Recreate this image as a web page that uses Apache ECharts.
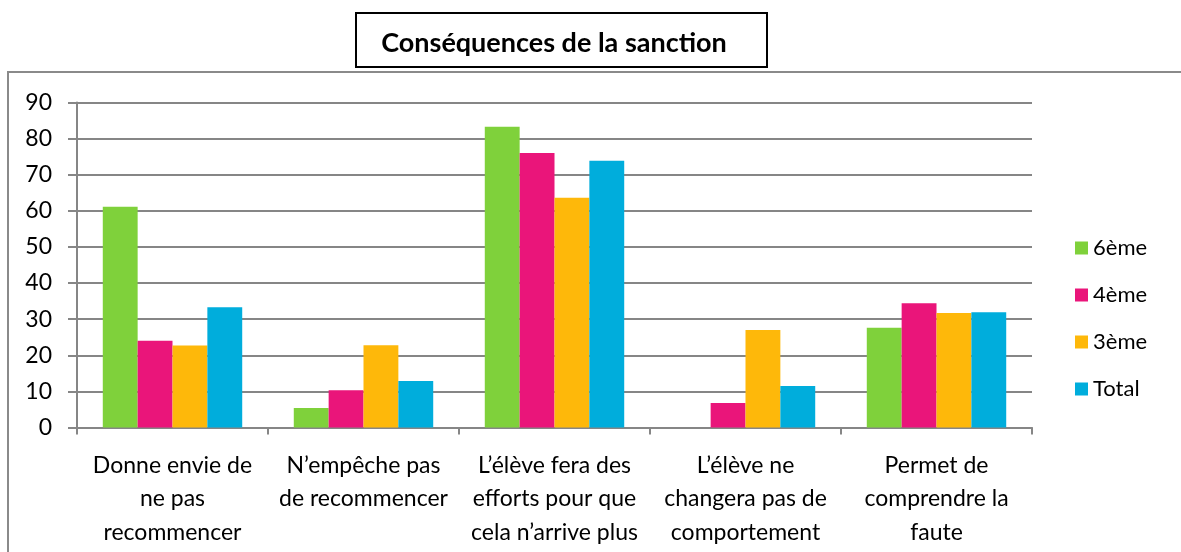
<!DOCTYPE html>
<html>
<head>
<meta charset="utf-8">
<script src="https://cdn.jsdelivr.net/npm/echarts@6/dist/echarts.min.js"></script>
<style>
html,body{margin:0;padding:0;background:#fff;}
#chart{width:1181px;height:552px;}
</style>
</head>
<body>
<div id="chart"></div>
<script>
const titleText = 'Conséquences de la sanction';
const categories = [
  'Donne envie de\nne pas\nrecommencer',
  'N’empêche pas\nde recommencer',
  'L’élève fera des\nefforts pour que\ncela n’arrive plus',
  'L’élève ne\nchangera pas de\ncomportement',
  'Permet de\ncomprendre la\nfaute'
];
const seriesNames = ['6ème', '4ème', '3ème', 'Total'];
const s6eme = [61.1, 5.4, 83.3, 0, 27.6];
const s4eme = [24.0, 10.3, 76.0, 6.8, 34.4];
const s3eme = [22.7, 22.8, 63.6, 27.0, 31.7];
const sTotal = [33.3, 12.9, 73.9, 11.5, 31.9];
const yTicks = [0, 10, 20, 30, 40, 50, 60, 70, 80, 90];

const colors = ['#7FD13B', '#EA157A', '#FEB80A', '#00ADDC'];
const values = [s6eme, s4eme, s3eme, sTotal];
const FONT = 'Lato';

const chart = echarts.init(document.getElementById('chart'), null, {renderer: 'canvas'});
chart.setOption({
  animation: false,
  backgroundColor: '#ffffff',
  color: colors,
  title: {
    text: titleText,
    left: 549,
    top: 25,
    textAlign: 'center',
    textStyle: {fontFamily: FONT, fontWeight: 'bold', fontSize: 27, color: '#000'}
  },
  graphic: [
    {type: 'rect', shape: {x: 356, y: 13, width: 411, height: 54},
     style: {fill: 'none', stroke: '#000', lineWidth: 2}, silent: true},
    {type: 'polyline', shape: {points: [[1181, 72], [8, 72], [8, 552]]},
     style: {fill: 'none', stroke: '#8a8a8a', lineWidth: 2}, silent: true}
  ],
  legend: {
    orient: 'vertical',
    left: 1070,
    top: 232,
    itemWidth: 13,
    itemHeight: 13,
    itemGap: 25,
    icon: 'rect',
    textStyle: {fontFamily: FONT, fontSize: 22, color: '#000'},
    data: seriesNames
  },
  grid: {left: 77, right: 149, top: 102.5, bottom: 124.5, containLabel: false},
  xAxis: {
    type: 'category',
    data: categories,
    axisLine: {lineStyle: {color: '#868686', width: 2}},
    axisTick: {show: true, length: 7, lineStyle: {color: '#868686', width: 2}},
    axisLabel: {
      interval: 0, margin: 21, color: '#000', fontFamily: FONT, fontSize: 23,
      lineHeight: 33.5, align: 'center', verticalAlign: 'top'
    }
  },
  yAxis: {
    type: 'value',
    min: 0, max: 90, interval: 10,
    axisLine: {show: true, lineStyle: {color: '#868686', width: 2}},
    axisTick: {show: true, length: 9, lineStyle: {color: '#868686', width: 2}},
    splitLine: {show: true, lineStyle: {color: '#868686', width: 2}},
    axisLabel: {
      margin: 25, color: '#000', fontFamily: FONT, fontSize: 23,
      formatter: function (v) { return yTicks.indexOf(v) >= 0 ? String(v) : ''; }
    }
  },
  series: seriesNames.map(function (name, i) {
    return {
      name: name,
      type: 'bar',
      data: values[i],
      barGap: '0%',
      barCategoryGap: '27%',
      itemStyle: {color: colors[i]}
    };
  })
});
</script>
</body>
</html>
